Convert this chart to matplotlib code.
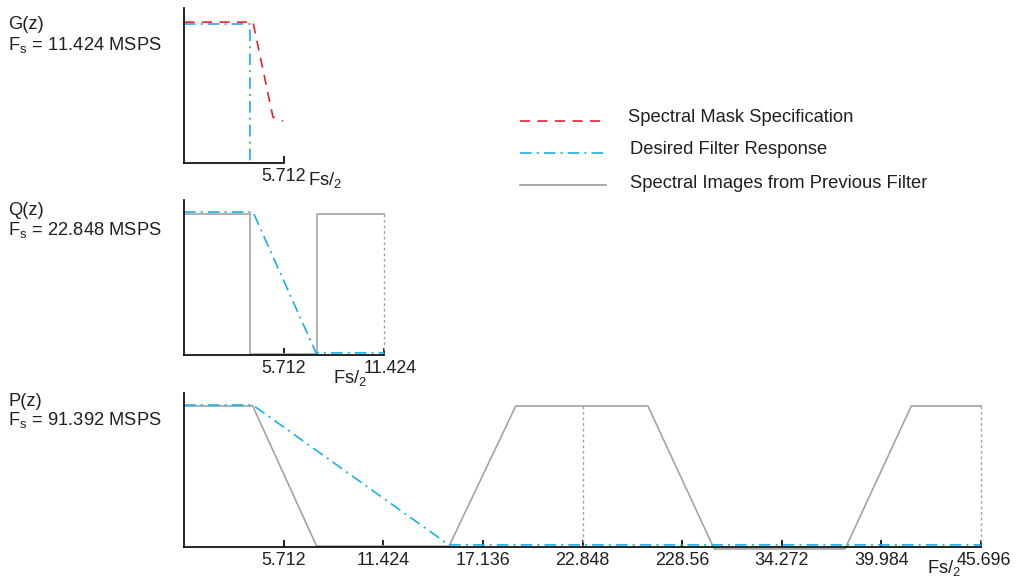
import matplotlib
matplotlib.use('Agg')
import matplotlib.pyplot as plt
from matplotlib.lines import Line2D
from matplotlib.transforms import ScaledTranslation

plt.rcParams['font.family'] = ['Liberation Sans', 'DejaVu Sans']
plt.rcParams['font.size'] = 12
plt.rcParams['mathtext.default'] = 'regular'

RED = '#e3242b'
BLUE = '#1ab0ec'
GRAY = '#a3a3a3'

# ---------------- data ----------------
# G(z), Fs = 11.424 MSPS
g_mask_x = [0.03, 3.94, 5.08, 5.65]
g_mask_y = [1.0, 1.0, 0.326, 0.298]
g_filt_x = [0.0, 3.77, 3.77]
g_filt_y = [0.987, 0.987, 0.0]
g_ticks = [5.712]
g_ticklabels = ['5.712']

# Q(z), Fs = 22.848 MSPS
q_img_x = [0.0, 3.77, 3.77, 7.6, 7.6, 11.424]
q_img_y = [1.0, 1.0, 0.007, 0.007, 1.0, 1.0]
q_img_dot_x = [11.424, 11.424]
q_img_dot_y = [1.0, 0.0]
q_filt_x = [0.0, 3.94, 7.54, 11.424]
q_filt_y = [1.015, 1.015, 0.015, 0.015]
q_ticks = [5.712, 11.424]
q_ticklabels = ['5.712', '11.424']

# P(z), Fs = 91.392 MSPS
p_img_x = [0.0, 3.94, 7.6, 15.2, 19.02, 26.6, 30.4, 37.9, 41.7, 45.696]
p_img_y = [1.007, 1.007, 0.007, 0.007, 1.007, 1.007, -0.014, -0.014, 1.007, 1.007]
p_dot1_x = [22.848, 22.848]
p_dot1_y = [1.007, 0.0]
p_dot2_x = [45.696, 45.696]
p_dot2_y = [1.007, 0.0]
p_filt_x = [0.0, 3.94, 15.19, 45.696]
p_filt_y = [1.014, 1.014, 0.015, 0.015]
p_ticks = [5.712, 11.424, 17.136, 22.848, 28.56, 34.272, 39.984, 45.696]
p_ticklabels = ['5.712', '11.424', '17.136', '22.848', '228.56', '34.272', '39.984', '45.696']

legend_labels = ['Spectral Mask Specification', 'Desired Filter Response',
                 'Spectral Images from Previous Filter']

W, H = 1019, 579
fig = plt.figure(figsize=(W / 100, H / 100), dpi=100)
TXT = '#231f20'
FS_TICK = 12.9
FS_TXT = 13.2


def fx(x):
    return x / W


def fy(y):
    return 1 - y / H


LW = 1.2
DASH_RED = (0, (6, 4.5))
DASH_BLUE = (0, (7, 3, 1.3, 3))


def make_axes(left, top, right, bottom, xmax, ticks, labels):
    ax = fig.add_axes([fx(left), fy(bottom), fx(right - left), (bottom - top) / H])
    ax.set_xlim(0, xmax)
    ax.set_ylim(0, 1.1)
    for s in ['top', 'right']:
        ax.spines[s].set_visible(False)
    for s in ['left', 'bottom']:
        ax.spines[s].set_linewidth(1.2)
        ax.spines[s].set_color('black')
    ax.set_yticks([])
    ax.set_xticks(ticks)
    ax.set_xticklabels(labels)
    ax.tick_params(axis='x', direction='in', length=5, width=1.2,
                   labelsize=FS_TICK, pad=3.5, colors='black', labelcolor=TXT)
    ax.patch.set_alpha(0)
    return ax


# Top axes G(z)
ax1 = make_axes(184, 8, 284, 163, 5.712, g_ticks, g_ticklabels)
ax1.plot(g_filt_x, g_filt_y, color=BLUE, lw=LW, linestyle=DASH_BLUE, clip_on=False)
ax1.plot(g_mask_x, g_mask_y, color=RED, lw=LW, linestyle=DASH_RED, clip_on=False)

# Middle axes Q(z)
ax2 = make_axes(184, 200, 384, 355, 11.424, q_ticks, q_ticklabels)
ax2.plot(q_img_x, q_img_y, color=GRAY, lw=LW, clip_on=False)
ax2.plot(q_img_dot_x, q_img_dot_y, color=GRAY, lw=1.0, linestyle=(0, (2, 2)), clip_on=False)
ax2.plot(q_filt_x, q_filt_y, color=BLUE, lw=LW, linestyle=DASH_BLUE, clip_on=False)
lbls = ax2.get_xticklabels()
lbls[-1].set_transform(lbls[-1].get_transform() + ScaledTranslation(6 / 100, 0, fig.dpi_scale_trans))

# Bottom axes P(z)
ax3 = make_axes(184, 393, 981, 547, 45.696, p_ticks, p_ticklabels)
ax3.plot(p_img_x, p_img_y, color=GRAY, lw=LW, clip_on=False)
ax3.plot(p_dot1_x, p_dot1_y, color=GRAY, lw=1.0, linestyle=(0, (2, 2)), clip_on=False)
ax3.plot(p_dot2_x, p_dot2_y, color=GRAY, lw=1.0, linestyle=(0, (2, 2)), clip_on=False)
ax3.plot(p_filt_x, p_filt_y, color=BLUE, lw=LW, linestyle=DASH_BLUE, clip_on=False)
lbls3 = ax3.get_xticklabels()
lbls3[-1].set_transform(lbls3[-1].get_transform() + ScaledTranslation(3 / 100, 0, fig.dpi_scale_trans))

# Fs/2 labels
for (x, y) in [(308, 185), (333, 383), (927, 573)]:
    fig.text(fx(x), fy(y), 'Fs/$_{2}$', fontsize=FS_TXT, color=TXT, va='baseline', ha='left')

# Left labels
side = [('G(z)', 29, 'F$_{s}$ = 11.424 MSPS', 50),
        ('Q(z)', 215, 'F$_{s}$ = 22.848 MSPS', 235),
        ('P(z)', 406, 'F$_{s}$ = 91.392 MSPS', 425)]
for name, y1, fs, y2 in side:
    fig.text(fx(8), fy(y1), name, fontsize=FS_TXT, color=TXT, va='baseline', ha='left')
    fig.text(fx(8), fy(y2), fs, fontsize=FS_TXT, color=TXT, va='baseline', ha='left')

# Legend (manual)
leg_styles = [(RED, DASH_RED, 121, 628, 117),
              (BLUE, DASH_BLUE, 153, 630, 150),
              ('#999999', '-', 185, 630, 184)]
for (c, ls, ly, tx, ty), lab in zip(leg_styles, legend_labels):
    fig.add_artist(Line2D([fx(520), fx(606)], [fy(ly), fy(ly)], color=c, lw=LW,
                          linestyle=ls, transform=fig.transFigure))
    fig.text(fx(tx), fy(ty), lab, fontsize=FS_TXT, color=TXT, va='center', ha='left')

fig.savefig('out.png', dpi=100, facecolor='white')
